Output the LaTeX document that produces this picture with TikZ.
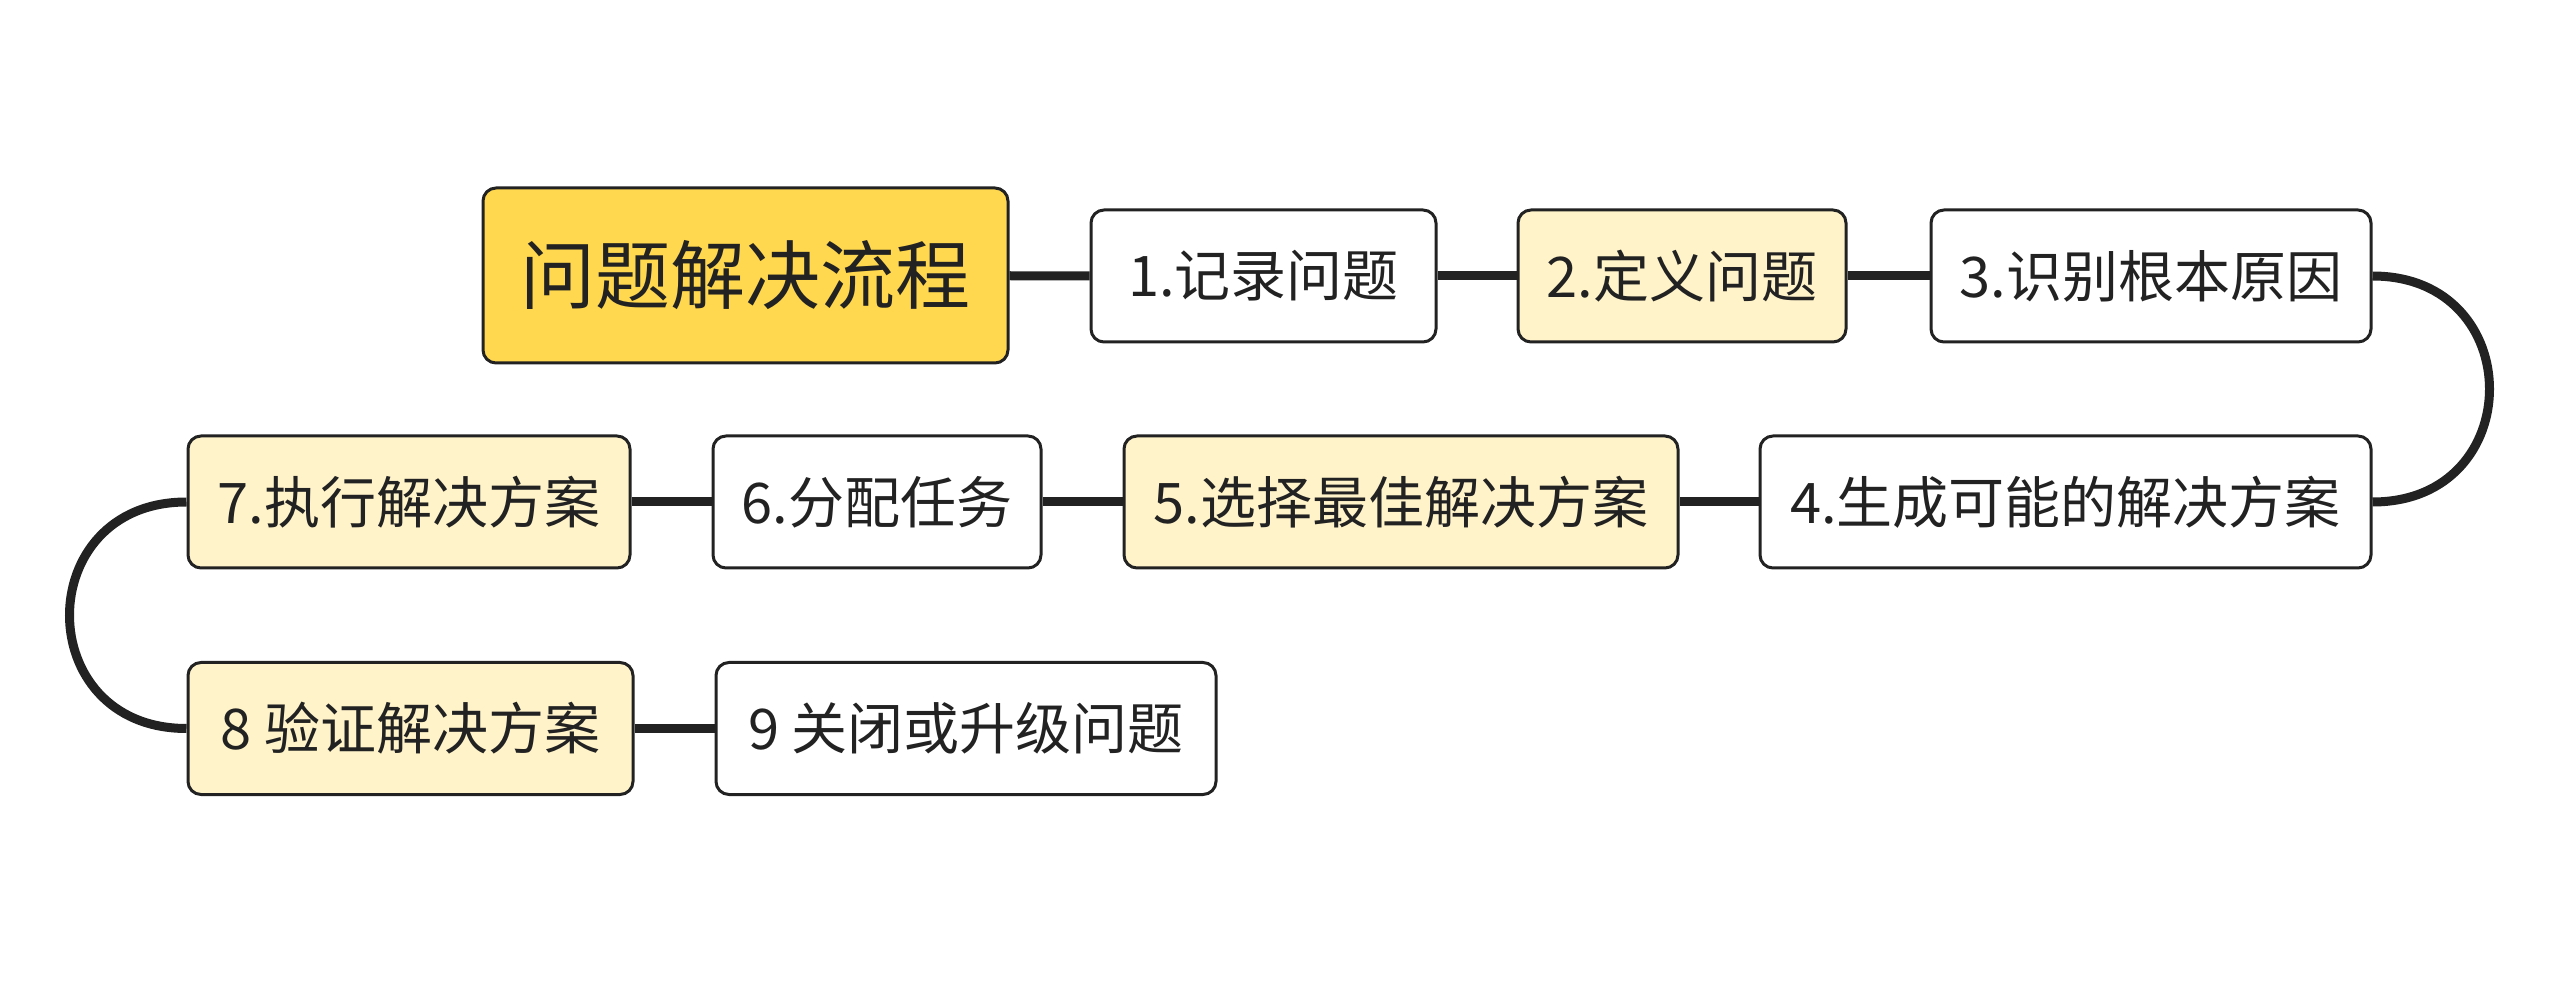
\documentclass[tikz,border=0pt]{standalone}
\usepackage{fontspec}
\setmainfont{Noto Sans CJK SC}
\definecolor{rootgold}{HTML}{FFD84F}
\definecolor{lightgold}{HTML}{FFF3CA}
\definecolor{inkgray}{HTML}{222222}

\begin{document}
\begin{tikzpicture}[x=5pt,y=5pt]
\tikzstyle{every node}+=[inner sep=0pt]
\tikzstyle{stepbox}=[draw=inkgray, line width=1.5pt, rounded corners=6.5pt, minimum height=66pt, text=inkgray, font=\fontsize{28}{34}\selectfont]
\tikzstyle{plainbox}=[stepbox, fill=white]
\tikzstyle{goldbox}=[stepbox, fill=lightgold]
\tikzstyle{rootbox}=[stepbox, fill=rootgold, minimum height=87.5pt, font=\fontsize{37.5}{44}\selectfont]
\tikzstyle{link}=[draw=inkgray, line width=4.5pt]
\useasboundingbox (0,0) rectangle (256,-98.3);
% top row
\node [rootbox, minimum width=262.5pt] (root) at (74.55,-27.55) {问题解决流程};
\node [plainbox, minimum width=172.5pt] (n1) at (126.35,-27.6) {1.记录问题};
\node [goldbox, minimum width=164pt] (n2) at (168.2,-27.6) {2.定义问题};
\node [plainbox, minimum width=220pt] (n3) at (215.1,-27.6) {3.识别根本原因};
% middle row
\node [plainbox, minimum width=305.5pt] (n4) at (206.55,-50.2) {4.生成可能的解决方案};
\node [goldbox, minimum width=277pt] (n5) at (140.1,-50.2) {5.选择最佳解决方案};
\node [plainbox, minimum width=164pt] (n6) at (87.7,-50.2) {6.分配任务};
\node [goldbox, minimum width=221pt] (n7) at (40.9,-50.2) {7.执行解决方案};
% bottom row
\node [goldbox, minimum width=222.5pt] (n8) at (41.05,-72.85) {8 验证解决方案};
\node [plainbox, minimum width=250pt] (n9) at (96.6,-72.85) {9 关闭或升级问题};
% connectors
\draw [link] (root) -- (n1);
\draw [link] (n1) -- (n2);
\draw [link] (n2) -- (n3);
\draw [link] (n3.east) .. controls +(15.6,0) and +(15.6,0) .. (n4.east);
\draw [link] (n4) -- (n5);
\draw [link] (n5) -- (n6);
\draw [link] (n6) -- (n7);
\draw [link] (n7.west) .. controls +(-15.6,0) and +(-15.6,0) .. (n8.west);
\draw [link] (n8) -- (n9);
\end{tikzpicture}
\end{document}
